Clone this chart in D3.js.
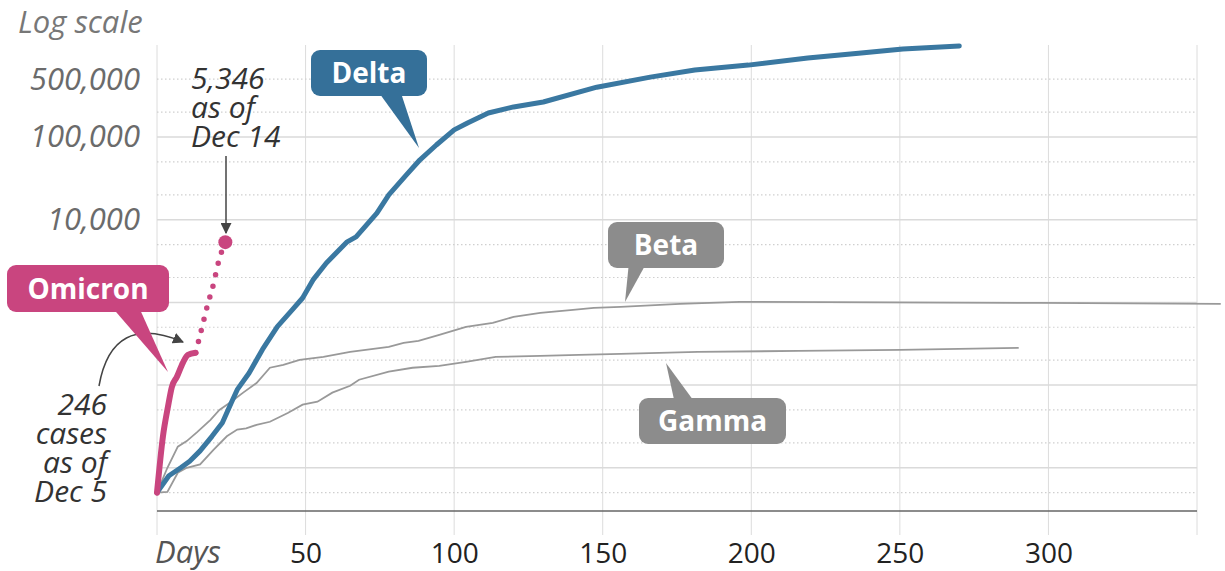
<!DOCTYPE html>
<html><head><meta charset="utf-8">
<script src="https://cdn.jsdelivr.net/npm/d3@7"></script>
<style>
body{margin:0;background:#fff}
svg{display:block}
text{font-family:'Open Sans',sans-serif}
</style>
</head><body>
<svg id="chart" width="1225" height="571"></svg>
<script>
// ---- data (days since first detection, cumulative cases, log scale) ----
const deltaDays  = [0,4,8,11,14.5,18.5,22,25,27,31,35.5,40.5,45.5,49,52.5,57,64,67,74,78,84,88.5,94,100,104.5,111.5,120,130,148,166,181,199,219,237,251,270];
const deltaCases = [5,8,10,12,16,24,35,61,88,140,270,510,810,1130,1870,3000,5400,6200,12000,20000,35000,53000,80000,122000,148000,195000,231000,265000,400000,530000,645000,740000,900000,1040000,1160000,1260000];

const betaDays  = [0,3.5,7,10,13.5,18,21,24.5,29,33.5,38,42.5,48,56,65,78,83,88,95,99.5,104,113,120,129,140,147,156,176,196,297,358];
const betaCases = [5,10,18,21,27,38,50,61,81,106,162,176,202,219,252,290,324,343,405,453,506,565,668,747,811,858,883,960,1015,986,960];

const gammaDays  = [0,3.5,7,10,14.5,19,23.5,27,30,33.5,38,44,49,54,59,65,68,78,86,95,104,114,129,142,156,182,216,250,290];
const gammaCases = [5,5.1,8.7,10,11,16.5,24,29,30,33,36,46,58,63,81,98,116,145,162,171,191,219,226,232,239,252,259,267,282];

const omicronDays  = [0,2,3.7,5,6.7,8.7,10.4,13];
const omicronCases = [5,24,55,95,126,186,232,246];
const omicronLatestDays  = [13,14.1,15.1,16.1,17.1,18.2,19.2,20.2,21.2,23];
const omicronLatestCases = [246,352,492,687,959,1303,1770,2610,3550,5346];

const xTicks = [50,100,150,200,250,300];
const yTicks = [10000,100000,500000];
const ySolid = [10,100,1000,10000,100000];
const yDotted = [5,20,50,200,500,2000,5000,20000,50000,200000,500000];
const xGrid = [0,50,100,150,200,250,300,350];

// ---- setup ----
const svg = d3.select('#chart');
const x = d3.scaleLinear().domain([0,350]).range([157,1197]);
const y = d3.scaleLog().domain([3,1e6]).range([511,54.3]);

const PINK = '#c9457f', BLUE = '#3a78a1', GREY = '#999999', BOXGREY = '#8c8c8c';

// grid
const g = svg.append('g');
g.selectAll('.vg').data(xGrid).join('line')
  .attr('x1',d=>x(d)).attr('x2',d=>x(d)).attr('y1',45).attr('y2',535)
  .attr('stroke','#dcdcdc').attr('stroke-width',1);
g.selectAll('.hs').data(ySolid).join('line')
  .attr('x1',x(0)).attr('x2',x(350)).attr('y1',d=>y(d)).attr('y2',d=>y(d))
  .attr('stroke','#dadada').attr('stroke-width',1.5);
g.selectAll('.hd').data(yDotted).join('line')
  .attr('x1',x(0)).attr('x2',x(350)).attr('y1',d=>y(d)).attr('y2',d=>y(d))
  .attr('stroke','#cfcfcf').attr('stroke-width',1.2).attr('stroke-dasharray','1.5,2.5');
g.append('line').attr('x1',x(0)).attr('x2',x(350)).attr('y1',y(3)).attr('y2',y(3))
  .attr('stroke','#666').attr('stroke-width',1.5);

// axes
const yAxis = svg.append('g').attr('transform',`translate(${x(0)},0)`)
  .call(d3.axisLeft(y).tickValues(yTicks).tickFormat(d3.format(',')).tickSize(0).tickPadding(17));
yAxis.select('.domain').remove();
yAxis.selectAll('text').attr('font-size',31).attr('font-style','italic').attr('fill','#6b6b6b')
  .style('font-family',"'Open Sans',sans-serif");

const xAxis = svg.append('g').attr('transform',`translate(0,${y(3)})`)
  .call(d3.axisBottom(x).tickValues(xTicks).tickSize(0).tickPadding(32));
xAxis.select('.domain').remove();
xAxis.selectAll('text').attr('font-size',28).attr('fill','#222')
  .style('font-family',"'Open Sans',sans-serif");

svg.append('text').attr('x',155).attr('y',563).attr('font-size',31).attr('font-style','italic')
  .attr('fill','#555').text('Days');
svg.append('text').attr('x',18).attr('y',33).attr('font-size',31).attr('font-style','italic')
  .attr('fill','#777').text('Log scale');

// lines
const line = d3.line().x(d=>x(d[0])).y(d=>y(d[1]));
const smooth = d3.line().x(d=>x(d[0])).y(d=>y(d[1])).curve(d3.curveMonotoneX);
const zip = (a,b)=>a.map((d,i)=>[d,b[i]]);

svg.append('path').datum(zip(betaDays,betaCases)).attr('d',line)
  .attr('fill','none').attr('stroke',GREY).attr('stroke-width',1.8);
svg.append('path').datum(zip(gammaDays,gammaCases)).attr('d',line)
  .attr('fill','none').attr('stroke',GREY).attr('stroke-width',1.8);
svg.append('path').datum(zip(deltaDays,deltaCases)).attr('d',line)
  .attr('fill','none').attr('stroke',BLUE).attr('stroke-width',5).attr('stroke-linejoin','round').attr('stroke-linecap','round');

svg.append('path').datum(zip(omicronLatestDays,omicronLatestCases)).attr('d',smooth)
  .attr('fill','none').attr('stroke',PINK).attr('stroke-width',5.5)
  .attr('stroke-linecap','round').attr('stroke-dasharray','0,11.5');
svg.append('path').datum(zip(omicronDays,omicronCases)).attr('d',smooth)
  .attr('fill','none').attr('stroke',PINK).attr('stroke-width',6)
  .attr('stroke-linecap','round').attr('stroke-linejoin','round');
const last = omicronLatestDays.length-1;
svg.append('circle').attr('cx',x(omicronLatestDays[last])).attr('cy',y(omicronLatestCases[last]))
  .attr('r',7).attr('fill',PINK);

// arrows
const defs = svg.append('defs');
defs.append('marker').attr('id','ah').attr('viewBox','0 0 10 10').attr('refX',9).attr('refY',5)
  .attr('markerWidth',11).attr('markerHeight',11).attr('markerUnits','userSpaceOnUse').attr('orient','auto')
  .append('path').attr('d','M0,0 L10,5 L0,10 z').attr('fill','#444');
svg.append('line').attr('x1',226).attr('x2',226).attr('y1',156).attr('y2',233)
  .attr('stroke','#444').attr('stroke-width',1.5).attr('marker-end','url(#ah)');
svg.append('path').attr('d','M99,386 Q112,312 183,342').attr('fill','none')
  .attr('stroke','#444').attr('stroke-width',1.5).attr('marker-end','url(#ah)');

// annotation text
const note = (xx, yy, lines, anchor) => {
  lines.forEach((l,i)=>svg.append('text').attr('font-size',30).attr('font-style','italic').attr('fill','#333')
    .attr('text-anchor',anchor).attr('x',xx).attr('y',yy+i*29).text(l));
};
note(191, 89, ['5,346','as of','Dec 14'], 'start');
note(107, 415, ['246','cases','as of','Dec 5'], 'end');

// callouts
const callout = (box, ptr, label, fill) => {
  const c = svg.append('g');
  c.append('polygon').attr('points',ptr.map(p=>p.join(',')).join(' ')).attr('fill',fill);
  c.append('rect').attr('x',box[0]).attr('y',box[1]).attr('width',box[2]-box[0]).attr('height',box[3]-box[1])
    .attr('rx',9).attr('fill',fill);
  c.append('text').attr('x',(box[0]+box[2])/2).attr('y',(box[1]+box[3])/2).attr('dy','0.36em')
    .attr('text-anchor','middle').attr('font-size',28).attr('font-weight','bold').attr('fill','#fff').text(label);
};
callout([7,265,169,312], [[110,305],[138,305],[168,372]], 'Omicron', PINK);
callout([311,50,427,96], [[377,90],[400,90],[419,148]], 'Delta', '#357099');
callout([608,222,724,268], [[629,262],[647,262],[625,302]], 'Beta', BOXGREY);
callout([639,398,786,444], [[675,404],[696,404],[666,363]], 'Gamma', BOXGREY);
</script>
</body></html>
